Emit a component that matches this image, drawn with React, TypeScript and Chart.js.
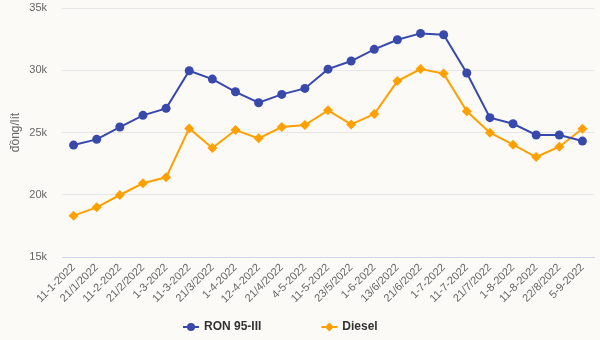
import React, { useEffect, useRef } from "react";
import { Chart, registerables } from "chart.js";

Chart.register(...registerables);

const categories = [
  "11-1-2022", "21/1/2022", "11-2-2022", "21/2/2022", "1-3-2022", "11-3-2022",
  "21/3/2022", "1-4-2022", "12-4-2022", "21/4/2022", "4-5-2022", "11-5-2022",
  "23/5/2022", "1-6-2022", "13/6/2022", "21/6/2022", "1-7-2022", "11-7-2022",
  "21/7/2022", "1-8-2022", "11-8-2022", "22/8/2022", "5-9-2022",
];

const ron95 = [
  23990, 24450, 25440, 26380, 26940, 29960, 29290, 28270, 27390, 28060, 28540, 30090,
  30740, 31680, 32450, 32960, 32850, 29780, 26190, 25700, 24800, 24800, 24310,
];

const diesel = [
  18320, 18990, 19980, 20920, 21400, 25330, 23750, 25200, 24530, 25440, 25600, 26780,
  25650, 26480, 29130, 30100, 29730, 26700, 24980, 24020, 23030, 23860, 25300,
];

const yTicks = [15000, 20000, 25000, 30000, 35000];
const seriesNames = ["RON 95-III", "Diesel"];
const yTitle = "đồng/lít";

const BLUE = "#3949ab";
const ORANGE = "#ffa000";
const FONT = "'Liberation Sans', Arial, sans-serif";

const legendPlugin = {
  id: "customLegend",
  afterDraw(chart: any) {
    const ctx = chart.ctx;
    const y = 327;
    let x = 183;
    const gap = 60;
    ctx.save();
    ctx.font = `bold 12px ${FONT}`;
    ctx.textBaseline = "middle";
    chart.data.datasets.forEach((ds: any, i: number) => {
      const color = ds.borderColor;
      ctx.strokeStyle = color;
      ctx.lineWidth = 2;
      ctx.beginPath();
      ctx.moveTo(x, y);
      ctx.lineTo(x + 16, y);
      ctx.stroke();
      ctx.fillStyle = color;
      ctx.beginPath();
      const cx = x + 8;
      if (i === 0) {
        ctx.arc(cx, y, 4, 0, Math.PI * 2);
      } else {
        ctx.moveTo(cx, y - 4.5);
        ctx.lineTo(cx + 4.5, y);
        ctx.lineTo(cx, y + 4.5);
        ctx.lineTo(cx - 4.5, y);
        ctx.closePath();
      }
      ctx.fill();
      ctx.fillStyle = "#333333";
      ctx.textAlign = "left";
      ctx.fillText(ds.label, x + 21, y);
      const w = ctx.measureText(ds.label).width;
      x = x + 21 + w + gap;
    });
    ctx.restore();
  },
};

export default function App() {
  const ref = useRef<HTMLCanvasElement | null>(null);

  useEffect(() => {
    document.body.style.margin = "0";
    document.body.style.background = "#fbfaf7";
    const chart = new Chart(ref.current!, {
      type: "line",
      data: {
        labels: categories,
        datasets: [
          {
            label: seriesNames[0],
            data: ron95,
            borderColor: BLUE,
            backgroundColor: BLUE,
            borderWidth: 2,
            pointRadius: 4.5,
            pointHoverRadius: 4.5,
            pointStyle: "circle",
            pointBorderWidth: 0,
            tension: 0,
          },
          {
            label: seriesNames[1],
            data: diesel,
            borderColor: ORANGE,
            backgroundColor: ORANGE,
            borderWidth: 2,
            pointRadius: 5,
            pointHoverRadius: 5,
            pointStyle: "rectRot",
            pointBorderWidth: 0,
            tension: 0,
          },
        ],
      },
      options: {
        responsive: false,
        animation: false,
        layout: { padding: { left: 0, right: 6, top: 8, bottom: 30 } },
        plugins: {
          tooltip: { enabled: false },
          legend: { display: false },
        },
        scales: {
          x: {
            offset: true,
            grid: { display: false, drawTicks: false },
            border: { display: true, color: "#ccd6eb", width: 1 },
            afterFit: (axis: any) => {
              axis.height = 53;
              axis.paddingTop = 0;
              axis.paddingBottom = 0;
            },
            ticks: {
              color: "#666666",
              font: { family: FONT, size: 11 },
              maxRotation: 45,
              minRotation: 45,
              autoSkip: false,
              padding: 4,
            },
          },
          y: {
            min: 15000,
            max: 35000,
            afterFit: (axis: any) => {
              axis.width = 62;
              axis.paddingTop = 0;
              axis.paddingBottom = 0;
            },
            afterBuildTicks: (axis: any) => {
              axis.ticks = yTicks.map((v) => ({ value: v }));
            },
            grid: { color: "#e6e6e6", drawTicks: false },
            border: { display: false },
            title: {
              display: true,
              text: yTitle,
              color: "#666666",
              font: { family: FONT, size: 12 },
              padding: { top: 8, bottom: 0 },
            },
            ticks: {
              color: "#666666",
              font: { family: FONT, size: 11 },
              padding: 15,
              callback: (v: any) => Number(v) / 1000 + "k",
            },
          },
        },
      },
      plugins: [legendPlugin],
    });
    return () => chart.destroy();
  }, []);

  return <canvas ref={ref} width={600} height={340} style={{ display: "block" }} />;
}
